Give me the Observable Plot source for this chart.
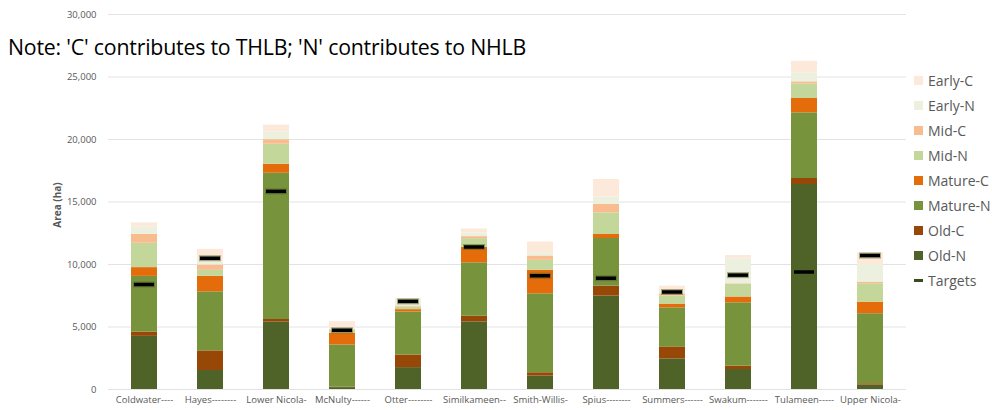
<!DOCTYPE html>
<html>
<head>
<meta charset="utf-8">
<script src="https://cdn.jsdelivr.net/npm/d3@7"></script>
<script src="https://cdn.jsdelivr.net/npm/@observablehq/plot@0.6"></script>
<style>
  html, body { margin: 0; padding: 0; background: #fff; }
  #wrap { position: relative; width: 992px; height: 410px; font-family: Lato, "Open Sans", sans-serif; }
  #title { position: absolute; left: 8px; top: 32px; font-size: 21.3px; color: #000; white-space: nowrap; font-family: "Open Sans", sans-serif; letter-spacing: -0.2px; }
  #ylab { position: absolute; left: 57px; top: 205px; transform: translate(-50%, -50%) rotate(-90deg); font-size: 10px; font-weight: bold; color: #595959; white-space: nowrap; font-family: "Open Sans", sans-serif; }
  #legend { position: absolute; left: 914px; top: 68px; font-size: 14px; color: #595959; font-family: "Open Sans", sans-serif; }
  .li { display: flex; align-items: center; height: 25px; }
  .sw { width: 9px; height: 9px; margin-right: 5px; }
  .ln { width: 9px; height: 2.5px; margin-right: 5px; background: #3a4a1c; }
</style>
</head>
<body>
<div id="wrap"></div>
<script>
const categories = ["Coldwater----","Hayes--------","Lower Nicola-","McNulty------","Otter--------","Similkameen--","Smith-Willis-","Spius--------","Summers------","Swakum-------","Tulameen-----","Upper Nicola-"];
const seriesNames = ["Old-N","Old-C","Mature-N","Mature-C","Mid-N","Mid-C","Early-N","Early-C"];
const seriesColors = ["#4f6228","#974806","#77933c","#e46c0a","#c4d79b","#f8bc8f","#ebf1de","#fde9d9"];
const oldN    = [4250, 1520, 5390, 150, 1750, 5410, 1070, 7470, 2450, 1600, 16400, 350];
const oldC    = [350, 1570, 210, 30, 1010, 450, 270, 800, 960, 270, 480, 110];
const matureN = [4450, 4720, 11700, 3380, 3440, 4270, 6310, 3810, 3120, 5060, 5250, 5600];
const matureC = [700, 1250, 720, 940, 190, 1250, 1880, 320, 270, 470, 1150, 930];
const midN    = [1950, 470, 1600, 230, 210, 690, 800, 1730, 670, 1010, 1170, 1470];
const midC    = [720, 430, 370, 60, 80, 160, 350, 670, 180, 50, 160, 130];
const earlyN  = [590, 270, 620, 140, 350, 290, 270, 590, 100, 1990, 720, 1410];
const earlyC  = [320, 980, 540, 500, 250, 320, 850, 1410, 520, 270, 930, 930];
const targets = [8400, 10500, 15850, 4740, 7050, 11400, 9100, 8900, 7800, 9150, 9400, 10720];
const yTicks  = [0, 5000, 10000, 15000, 20000, 25000, 30000];

const seriesValues = [oldN, oldC, matureN, matureC, midN, midC, earlyN, earlyC];
const rows = [];
seriesNames.forEach((s, si) => categories.forEach((c, ci) => rows.push({cat: c, series: s, value: seriesValues[si][ci]})));
const targetRows = categories.map((c, i) => ({cat: c, target: targets[i]}));

const chart = Plot.plot({
  width: 992,
  height: 410,
  marginTop: 14,
  marginBottom: 21,
  marginLeft: 108,
  marginRight: 86,
  style: {fontFamily: "'Open Sans', sans-serif", fontSize: "9.5px", color: "#595959", background: "#fff"},
  x: {domain: categories, paddingInner: 0.6, paddingOuter: 0.3, label: null, tickSize: 0, tickPadding: 7},
  y: {domain: [0, 30000], ticks: yTicks, tickFormat: d3.format(","), label: null, tickSize: 0, tickPadding: 12},
  color: {domain: seriesNames, range: seriesColors},
  marks: [
    Plot.gridY(yTicks, {stroke: "#e3e3e3", strokeOpacity: 1, strokeWidth: 1}),
    Plot.barY(rows, {x: "cat", y: "value", fill: "series", order: seriesNames}),
    Plot.tickY(targetRows, {x: "cat", y: "target", stroke: "#4f6228", strokeWidth: 6, strokeOpacity: 0.5, insetLeft: 2, insetRight: 2}),
    Plot.tickY(targetRows, {x: "cat", y: "target", stroke: "#000", strokeWidth: 3.5, insetLeft: 3, insetRight: 3})
  ]
});

const wrap = document.getElementById("wrap");
wrap.appendChild(chart);

const title = document.createElement("div");
title.id = "title";
title.textContent = "Note: 'C' contributes to THLB; 'N' contributes to NHLB";
wrap.appendChild(title);

const ylab = document.createElement("div");
ylab.id = "ylab";
ylab.textContent = "Area (ha)";
wrap.appendChild(ylab);

const legend = document.createElement("div");
legend.id = "legend";
for (let i = seriesNames.length - 1; i >= 0; i--) {
  const li = document.createElement("div"); li.className = "li";
  const sw = document.createElement("div"); sw.className = "sw"; sw.style.background = seriesColors[i];
  const t = document.createElement("span"); t.textContent = seriesNames[i];
  li.appendChild(sw); li.appendChild(t); legend.appendChild(li);
}
const lt = document.createElement("div"); lt.className = "li";
const ln = document.createElement("div"); ln.className = "ln";
const tt = document.createElement("span"); tt.textContent = "Targets";
lt.appendChild(ln); lt.appendChild(tt); legend.appendChild(lt);
wrap.appendChild(legend);
</script>
</body>
</html>
